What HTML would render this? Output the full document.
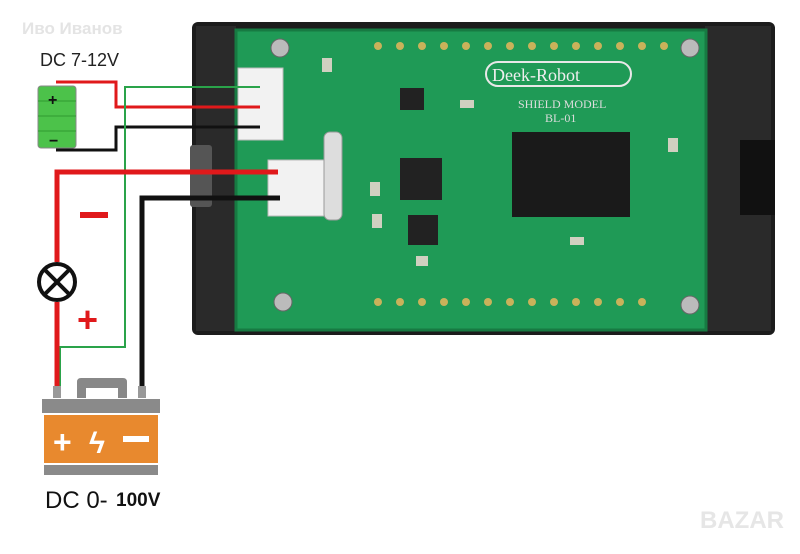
<!DOCTYPE html>
<html><head><meta charset="utf-8"><style>
body{margin:0;background:#fff;width:800px;height:549px;overflow:hidden;font-family:"Liberation Sans",sans-serif}
</style></head><body>
<svg width="800" height="549" viewBox="0 0 800 549" xmlns="http://www.w3.org/2000/svg">
<rect width="800" height="549" fill="#fff"/>
<text x="22" y="34" font-size="17" fill="#e4e4e4" font-weight="bold">Иво Иванов</text>
<rect x="192" y="22" width="583" height="313" rx="6" fill="#1c1c1c"/>
<rect x="196" y="26" width="40" height="305" fill="#2a2a2a"/>
<rect x="705" y="26" width="66" height="305" fill="#2a2a2a"/>
<rect x="740" y="140" width="35" height="75" fill="#111"/>
<rect x="190" y="145" width="22" height="62" rx="3" fill="#555"/>
<rect x="236" y="30" width="470" height="300" fill="#1f9a56"/>
<rect x="236" y="30" width="470" height="300" fill="none" stroke="#177a42" stroke-width="3"/>
<g fill="#c9b25a"><circle cx="378" cy="46" r="4"/><circle cx="400" cy="46" r="4"/><circle cx="422" cy="46" r="4"/><circle cx="444" cy="46" r="4"/><circle cx="466" cy="46" r="4"/><circle cx="488" cy="46" r="4"/><circle cx="510" cy="46" r="4"/><circle cx="532" cy="46" r="4"/><circle cx="554" cy="46" r="4"/><circle cx="576" cy="46" r="4"/><circle cx="598" cy="46" r="4"/><circle cx="620" cy="46" r="4"/><circle cx="642" cy="46" r="4"/><circle cx="664" cy="46" r="4"/>
<circle cx="378" cy="302" r="4"/><circle cx="400" cy="302" r="4"/><circle cx="422" cy="302" r="4"/><circle cx="444" cy="302" r="4"/><circle cx="466" cy="302" r="4"/><circle cx="488" cy="302" r="4"/><circle cx="510" cy="302" r="4"/><circle cx="532" cy="302" r="4"/><circle cx="554" cy="302" r="4"/><circle cx="576" cy="302" r="4"/><circle cx="598" cy="302" r="4"/><circle cx="620" cy="302" r="4"/><circle cx="642" cy="302" r="4"/></g>
<g fill="#bbb" stroke="#666"><circle cx="280" cy="48" r="9"/><circle cx="690" cy="48" r="9"/><circle cx="283" cy="302" r="9"/><circle cx="690" cy="305" r="9"/></g>
<rect x="486" y="62" width="145" height="24" rx="12" fill="none" stroke="#e8e8e8" stroke-width="2"/>
<text x="492" y="81" font-family="Liberation Serif,serif" font-size="18" fill="#eee">Deek-Robot</text>
<text x="518" y="108" font-family="Liberation Serif,serif" font-size="12" fill="#ddd">SHIELD MODEL</text>
<text x="545" y="122" font-family="Liberation Serif,serif" font-size="12" fill="#ddd">BL-01</text>
<rect x="512" y="132" width="118" height="85" fill="#1a1a1a"/>
<rect x="400" y="158" width="42" height="42" fill="#222"/>
<rect x="408" y="215" width="30" height="30" fill="#222"/>
<rect x="400" y="88" width="24" height="22" fill="#222"/>
<g fill="#d0d0c0"><rect x="322" y="58" width="10" height="14"/><rect x="370" y="182" width="10" height="14"/><rect x="372" y="214" width="10" height="14"/><rect x="460" y="100" width="14" height="8"/><rect x="570" y="237" width="14" height="8"/><rect x="416" y="256" width="12" height="10"/><rect x="668" y="138" width="10" height="14"/></g>
<rect x="238" y="68" width="45" height="72" fill="#f2f2f2" stroke="#bbb"/>
<rect x="268" y="160" width="58" height="56" fill="#f2f2f2" stroke="#bbb"/>
<rect x="324" y="132" width="18" height="88" rx="6" fill="#ddd" stroke="#999"/>
<g fill="none" stroke-width="3">
<polyline points="56,82 116,82 116,107 260,107" stroke="#e0191b"/>
<polyline points="56,150 116,150 116,127 260,127" stroke="#111"/>
<polyline points="260,87 125,87 125,347 60,347 60,388" stroke="#2aa34a" stroke-width="2"/>
<polyline points="278,172 57,172 57,262" stroke="#e0191b" stroke-width="5"/>
<polyline points="57,302 57,388" stroke="#e0191b" stroke-width="5"/>
<polyline points="280,198 142,198 142,388" stroke="#111" stroke-width="5"/>
</g>
<rect x="38" y="86" width="38" height="62" rx="3" fill="#4cc24a" stroke="#888"/>
<g stroke="#2f9a30" stroke-width="1"><line x1="38" y1="101" x2="76" y2="101"/><line x1="38" y1="116" x2="76" y2="116"/><line x1="38" y1="131" x2="76" y2="131"/></g>
<text x="48" y="105" font-size="16" font-weight="bold" fill="#111">+</text>
<text x="49" y="146" font-size="16" font-weight="bold" fill="#111">−</text>
<text x="40" y="66" font-size="18" fill="#222">DC 7-12V</text>
<circle cx="57" cy="282" r="18" fill="#fff" stroke="#111" stroke-width="4"/>
<path d="M45 270 L69 294 M69 270 L45 294" stroke="#111" stroke-width="4"/>
<rect x="80" y="212" width="28" height="6" fill="#e0191b"/>
<text x="77" y="332" font-size="36" font-weight="bold" fill="#e0191b">+</text>
<path d="M77 398 L77 382 Q77 378 81 378 L123 378 Q127 378 127 382 L127 398 L118 398 L118 388 L86 388 L86 398 Z" fill="#888"/>
<rect x="53" y="386" width="8" height="12" fill="#999"/>
<rect x="138" y="386" width="8" height="12" fill="#999"/>
<rect x="42" y="399" width="118" height="14" fill="#8a8a8a"/>
<rect x="44" y="415" width="114" height="48" fill="#e8892e"/>
<rect x="44" y="465" width="114" height="10" fill="#8a8a8a"/>
<text x="53" y="453" font-size="32" font-weight="bold" fill="#fff">+</text>
<text x="89" y="453" font-size="30" font-weight="bold" fill="#fff">ϟ</text>
<rect x="123" y="436" width="26" height="6" fill="#fff"/>
<text x="45" y="508" font-size="24" fill="#111">DC 0-</text>
<text x="116" y="506" font-size="19" font-weight="bold" fill="#111">100V</text>
<text x="700" y="528" font-size="24" font-weight="bold" fill="#e6e6e6">BAZAR</text>
</svg>
</body></html>
